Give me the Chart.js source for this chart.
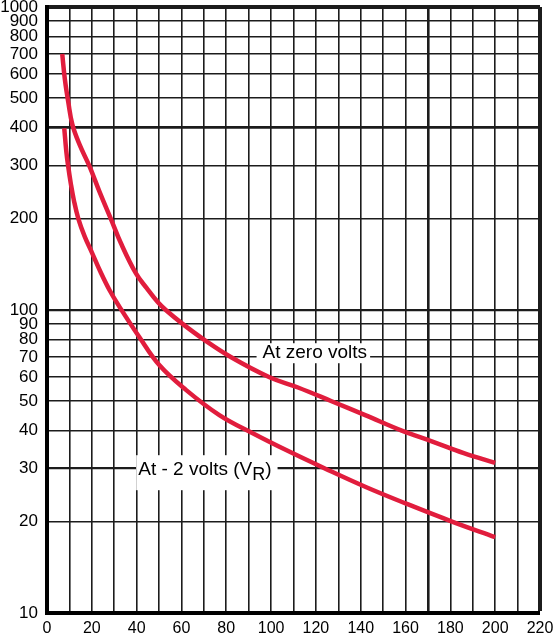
<!DOCTYPE html>
<html>
<head>
<meta charset="utf-8">
<script src="https://cdn.jsdelivr.net/npm/chart.js@4.4.1/dist/chart.umd.min.js"></script>
<style>
  html, body { margin: 0; padding: 0; background: #fff; }
  #wrap { width: 555px; height: 638px; }
</style>
</head>
<body>
<div id="wrap"><canvas id="chart"></canvas></div>
<script>
// curves
const zeroX = [6.8, 8.0, 9.5, 11.3, 14.5, 18.8, 23.5, 28.5, 33, 39.7, 44.5, 49.5, 53, 60.5, 69.9, 82, 99.3, 112, 127, 142, 158.3, 172, 186, 200];
const zeroY = [700, 575, 485, 410, 352, 300, 245, 200, 166, 132, 118, 106, 100, 90, 80, 70, 60, 55.5, 50, 45, 40, 36.8, 33.7, 31.3];

const minus2X = [7.7, 8.6, 9.4, 10.6, 12, 14, 16.8, 20, 24, 28, 32.5, 41.1, 50.1, 62, 76.9, 91.8, 106.7, 124, 142.5, 160, 181, 200];
const minus2Y = [398, 335, 300, 262, 230, 200, 175, 155, 133, 116, 102, 81.6, 65.8, 54.5, 45, 39.2, 34.5, 30, 26.0, 23.0, 20, 17.8];

const yTicks = [10, 20, 30, 40, 50, 60, 70, 80, 90, 100, 200, 300, 400, 500, 600, 700, 800, 900, 1000];
const xLabelStep = 20;

// where the two curve names sit (x value, y value at text middle)
const zeroLabelAt = [96.2, 72];
const minus2LabelAt = [40.7, 29.6];

const red = '#e11d3d';
const gridColor = '#1c1c1c';
const fontFam = '"Liberation Sans", Arial, sans-serif';

const toPoints = (xs, ys) => xs.map((x, i) => ({ x: x, y: ys[i] }));

const labelPlugin = {
  id: 'curveLabels',
  afterDraw(chart) {
    const ctx = chart.ctx;
    const xs = chart.scales.x, ys = chart.scales.y;
    ctx.save();
    ctx.textBaseline = 'middle';

    // "At zero volts"
    let px = xs.getPixelForValue(zeroLabelAt[0]);
    let py = ys.getPixelForValue(zeroLabelAt[1]);
    ctx.font = '19px ' + fontFam;
    let w = ctx.measureText('At zero volts').width;
    ctx.fillStyle = '#fff';
    ctx.fillRect(px - 6, py - 10, w + 9, 20);
    ctx.fillStyle = '#000';
    ctx.fillText('At zero volts', px, py);

    // "At - 2 volts (VR)" with subscript R
    px = xs.getPixelForValue(minus2LabelAt[0]);
    py = ys.getPixelForValue(minus2LabelAt[1]);
    const a = 'At - 2 volts (V', b = 'R', c = ')';
    ctx.font = '19px ' + fontFam;
    const wa = ctx.measureText(a).width;
    const wc = ctx.measureText(c).width;
    ctx.font = '18px ' + fontFam;
    const wb = ctx.measureText(b).width;
    ctx.fillStyle = '#fff';
    ctx.fillRect(px - 2, py - 15, wa + wb + wc + 8, 35);
    ctx.fillStyle = '#000';
    ctx.font = '19px ' + fontFam;
    ctx.fillText(a, px, py);
    ctx.font = '18px ' + fontFam;
    ctx.fillText(b, px + wa, py + 5);
    ctx.font = '19px ' + fontFam;
    ctx.fillText(c, px + wa + wb, py);
    ctx.restore();
  }
};

new Chart(document.getElementById('chart'), {
  type: 'line',
  data: {
    datasets: [
      {
        label: 'At zero volts',
        data: toPoints(zeroX, zeroY),
        borderColor: red,
        borderWidth: 4.5,
        pointRadius: 0,
        tension: 0.4,
        borderCapStyle: 'butt',
        fill: false,
      },
      {
        label: 'At - 2 volts (VR)',
        data: toPoints(minus2X, minus2Y),
        borderColor: red,
        borderWidth: 4.5,
        pointRadius: 0,
        tension: 0.4,
        borderCapStyle: 'butt',
        fill: false,
      },
    ],
  },
  options: {
    responsive: true,
    maintainAspectRatio: false,
    animation: false,
    layout: { padding: { top: 7, right: 15, left: 0, bottom: 0 } },
    plugins: {
      legend: { display: false },
      tooltip: { enabled: false },
    },
    scales: {
      x: {
        type: 'linear',
        min: 0,
        max: 220,
        afterFit: (s) => { s.height = 25; s.paddingLeft = 0; s.paddingRight = 0; },
        border: { display: true, width: 4, color: '#000' },
        grid: {
          drawTicks: false,
          color: gridColor,
          lineWidth: (c) => {
            const v = c.tick && c.tick.value;
            if (v === 0) return 0;
            if (v === 220) return 4;
            if (v === 170) return 2.6;
            return 1.6;
          },
        },
        ticks: {
          stepSize: 10,
          autoSkip: false,
          maxRotation: 0,
          padding: 6,
          color: '#000',
          font: { family: fontFam, size: 16 },
          callback: (v) => (v % xLabelStep === 0 ? String(v) : ''),
        },
      },
      y: {
        type: 'logarithmic',
        min: 10,
        max: 1000,
        afterFit: (s) => { s.width = 47; s.paddingTop = 0; s.paddingBottom = 0; },
        afterBuildTicks: (s) => { s.ticks = yTicks.map((v) => ({ value: v })); },
        border: { display: true, width: 4, color: '#000' },
        grid: {
          drawTicks: false,
          color: gridColor,
          lineWidth: (c) => {
            const v = c.tick && c.tick.value;
            if (v === 10) return 0;
            if (v === 1000) return 4;
            if (v === 400) return 2.8;
            if (v === 100 || v === 30) return 2.2;
            return 1.6;
          },
        },
        ticks: {
          autoSkip: false,
          padding: 9,
          color: '#000',
          font: { family: fontFam, size: 17 },
          callback: (v) => String(v),
        },
      },
    },
  },
  plugins: [labelPlugin],
});
</script>
</body>
</html>
